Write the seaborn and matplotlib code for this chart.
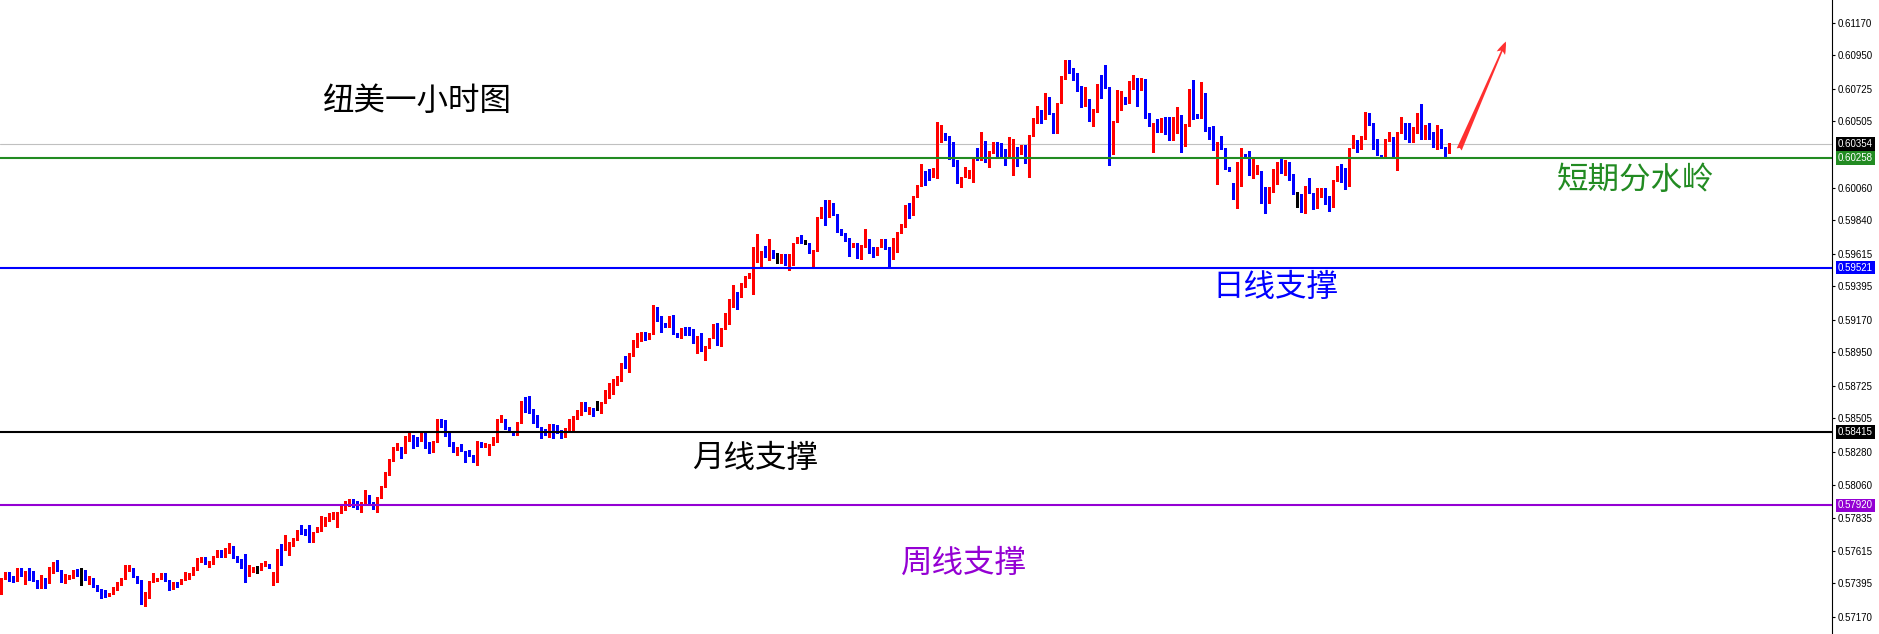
import matplotlib
matplotlib.use("Agg")
import matplotlib.pyplot as plt
import matplotlib.transforms as mtransforms
import numpy as np
import seaborn as sns

# NZD/USD 1-hour candles, prices in units of 0.00001
first_open = 57332
gap_opens = {68: 57390, 188: 59370, 308: 60089}

closes = [
    57428, 57449, 57422, 57410, 57496, 57451, 57467, 57465, 57410, 57399,
    57431, 57412, 57478, 57525, 57480, 57406, 57436, 57440, 57458, 57444,
    57444, 57417, 57433, 57379, 57350, 57328, 57316, 57330, 57368, 57390,
    57428, 57485, 57500, 57440, 57412, 57283, 57337, 57410, 57417, 57431,
    57437, 57410, 57354, 57404, 57397, 57424, 57433, 57467, 57492, 57565,
    57570, 57530, 57547, 57579, 57590, 57586, 57601, 57615, 57570, 57552,
    57525, 57444, 57485, 57492, 57492, 57518, 57527, 57496, 57410, 57626,
    57619, 57642, 57658, 57695, 57756, 57727, 57718, 57687, 57743, 57761,
    57815, 57826, 57837, 57844, 57877, 57900, 57918, 57941, 57922, 57911,
    57941, 57967, 57938, 57911, 57971, 58046, 58131, 58219, 58313, 58315,
    58275, 58360, 58376, 58360, 58355, 58400, 58340, 58315, 58355, 58468,
    58450, 58405, 58326, 58288, 58315, 58288, 58268, 58252, 58219, 58333,
    58311, 58320, 58333, 58367, 58483, 58499, 58446, 58421, 58407, 58481,
    58616, 58611, 58562, 58483, 58450, 58432, 58429, 58466, 58427, 58412,
    58387, 58427, 58454, 58513, 58540, 58614, 58567, 58576, 58562, 58562,
    58614, 58648, 58704, 58737, 58766, 58865, 58847, 58932, 59000, 59060,
    59079, 59040, 59074, 59249, 59190, 59141, 59123, 59164, 59074, 59060,
    59108, 59087, 59083, 59011, 59060, 58961, 58993, 59045, 59141, 59007,
    59114, 59213, 59269, 59334, 59323, 59397, 59458, 59483, 59590, 59606,
    59635, 59590, 59635, 59584, 59584, 59599, 59538, 59543, 59685, 59695,
    59685, 59685, 59617, 59640, 59860, 59931, 59864, 59891, 59875, 59774,
    59740, 59718, 59662, 59689, 59584, 59673, 59714, 59662, 59628, 59662,
    59666, 59655, 59584, 59718, 59759, 59803, 59942, 59897, 60003, 60077,
    60160, 60146, 60137, 60178, 60414, 60421, 60402, 60272, 60241, 60104,
    60133, 60156, 60178, 60264, 60257, 60279, 60234, 60308, 60367, 60301,
    60291, 60264, 60331, 60335, 60286, 60331, 60223, 60414, 60501, 60582,
    60569, 60636, 60555, 60486, 60631, 60813, 60912, 60863, 60829, 60739,
    60650, 60656, 60520, 60589, 60757, 60753, 60728, 60306, 60508, 60589,
    60672, 60627, 60757, 60766, 60739, 60749, 60555, 60475, 60493, 60436,
    60481, 60470, 60380, 60501, 60551, 60347, 60488, 60722, 60549, 60530,
    60665, 60459, 60441, 60313, 60340, 60320, 60190, 60173, 59998, 60077,
    60284, 60264, 60145, 60160, 60171, 60025, 59954, 60066, 60089, 60219,
    60160, 60163, 60145, 60017, 60017, 59909, 60072, 60023, 59931, 60003,
    60032, 59949, 59931, 60111, 60196, 60190, 60089, 60324, 60335, 60322,
    60407, 60515, 60481, 60322, 60277, 60264, 60380, 60402, 60264, 60432,
    60475, 60425, 60369, 60436, 60533, 60389, 60407, 60398, 60367, 60407,
    60324, 60301, 60354,
]

highs = [
    57428, 57472, 57472, 57443, 57496, 57496, 57480, 57496, 57480, 57417,
    57451, 57424, 57507, 57541, 57552, 57487, 57458, 57451, 57485, 57489,
    57496, 57485, 57444, 57424, 57384, 57359, 57352, 57330, 57368, 57404,
    57428, 57518, 57518, 57500, 57444, 57417, 57337, 57410, 57462, 57431,
    57467, 57467, 57415, 57404, 57397, 57424, 57474, 57467, 57507, 57565,
    57570, 57570, 57547, 57579, 57619, 57619, 57631, 57665, 57646, 57579,
    57559, 57592, 57518, 57507, 57512, 57534, 57543, 57527, 57474, 57626,
    57660, 57720, 57675, 57702, 57756, 57788, 57761, 57788, 57743, 57776,
    57848, 57844, 57866, 57877, 57877, 57918, 57951, 57963, 57963, 57949,
    57943, 58023, 57990, 57943, 57978, 58052, 58147, 58230, 58313, 58342,
    58315, 58389, 58416, 58394, 58382, 58416, 58416, 58347, 58355, 58501,
    58501, 58495, 58409, 58345, 58315, 58333, 58281, 58293, 58257, 58351,
    58345, 58338, 58333, 58378, 58499, 58526, 58499, 58446, 58421, 58481,
    58625, 58648, 58656, 58569, 58526, 58450, 58436, 58466, 58466, 58461,
    58427, 58441, 58499, 58522, 58562, 58614, 58614, 58584, 58576, 58623,
    58614, 58697, 58742, 58769, 58791, 58881, 58928, 58944, 59034, 59079,
    59085, 59087, 59083, 59269, 59258, 59197, 59150, 59197, 59202, 59083,
    59114, 59123, 59123, 59108, 59060, 59079, 58993, 59045, 59141, 59150,
    59114, 59213, 59308, 59402, 59357, 59415, 59464, 59487, 59658, 59747,
    59635, 59666, 59714, 59640, 59617, 59613, 59613, 59611, 59685, 59729,
    59743, 59707, 59689, 59640, 59860, 59931, 59976, 59976, 59958, 59882,
    59779, 59752, 59720, 59689, 59689, 59673, 59779, 59707, 59658, 59662,
    59712, 59712, 59662, 59718, 59759, 59815, 59942, 59954, 60003, 60077,
    60219, 60173, 60183, 60190, 60503, 60481, 60429, 60409, 60369, 60246,
    60133, 60200, 60178, 60264, 60324, 60434, 60376, 60308, 60367, 60367,
    60362, 60318, 60402, 60389, 60335, 60349, 60347, 60414, 60526, 60609,
    60582, 60699, 60672, 60564, 60631, 60813, 60919, 60919, 60863, 60829,
    60744, 60739, 60656, 60589, 60757, 60818, 60885, 60739, 60508, 60717,
    60712, 60672, 60780, 60818, 60796, 60798, 60791, 60560, 60493, 60524,
    60526, 60533, 60533, 60537, 60604, 60551, 60488, 60726, 60784, 60555,
    60771, 60699, 60466, 60475, 60367, 60407, 60328, 60200, 60089, 60234,
    60324, 60284, 60306, 60257, 60212, 60171, 60066, 60066, 60185, 60230,
    60257, 60246, 60234, 60149, 60030, 60017, 60072, 60122, 60021, 60055,
    60055, 60055, 60003, 60111, 60205, 60219, 60192, 60324, 60414, 60380,
    60407, 60567, 60564, 60493, 60387, 60279, 60385, 60434, 60402, 60432,
    60537, 60493, 60493, 60470, 60560, 60623, 60479, 60493, 60432, 60479,
    60454, 60335, 60358,
]

lows = [
    57323, 57422, 57410, 57404, 57410, 57444, 57393, 57417, 57410, 57365,
    57361, 57365, 57395, 57467, 57480, 57406, 57399, 57424, 57433, 57444,
    57384, 57417, 57388, 57372, 57345, 57296, 57305, 57310, 57325, 57350,
    57386, 57424, 57480, 57440, 57399, 57256, 57242, 57298, 57406, 57410,
    57422, 57410, 57350, 57359, 57368, 57390, 57417, 57426, 57453, 57485,
    57541, 57523, 57507, 57523, 57574, 57574, 57570, 57597, 57563, 57541,
    57496, 57406, 57444, 57474, 57462, 57485, 57512, 57496, 57384, 57406,
    57518, 57619, 57586, 57648, 57687, 57727, 57718, 57675, 57671, 57739,
    57747, 57783, 57817, 57828, 57776, 57866, 57889, 57924, 57911, 57895,
    57877, 57934, 57936, 57895, 57877, 57967, 58046, 58124, 58219, 58293,
    58241, 58275, 58355, 58304, 58320, 58353, 58304, 58275, 58281, 58349,
    58450, 58387, 58320, 58281, 58261, 58288, 58214, 58252, 58214, 58194,
    58311, 58311, 58259, 58328, 58349, 58479, 58432, 58421, 58394, 58394,
    58477, 58551, 58540, 58473, 58450, 58376, 58394, 58378, 58371, 58407,
    58374, 58380, 58427, 58427, 58503, 58528, 58557, 58535, 58524, 58562,
    58540, 58607, 58643, 58668, 58730, 58759, 58847, 58820, 58928, 58988,
    59029, 59034, 59045, 59072, 59164, 59089, 59123, 59123, 59074, 59052,
    59049, 59067, 59067, 59011, 58948, 58961, 58899, 58982, 59045, 59000,
    58993, 59110, 59141, 59254, 59244, 59325, 59392, 59449, 59343, 59561,
    59527, 59590, 59572, 59584, 59554, 59550, 59538, 59505, 59538, 59685,
    59685, 59680, 59617, 59527, 59635, 59853, 59808, 59868, 59875, 59763,
    59740, 59702, 59599, 59666, 59584, 59577, 59662, 59621, 59594, 59606,
    59660, 59644, 59527, 59577, 59628, 59752, 59796, 59853, 59875, 59998,
    60071, 60077, 60111, 60129, 60126, 60369, 60380, 60250, 60205, 60093,
    60066, 60129, 60122, 60099, 60246, 60246, 60234, 60200, 60295, 60268,
    60272, 60212, 60264, 60145, 60205, 60286, 60223, 60133, 60409, 60497,
    60497, 60524, 60555, 60429, 60429, 60627, 60789, 60829, 60784, 60712,
    60604, 60609, 60508, 60475, 60571, 60665, 60728, 60212, 60286, 60503,
    60582, 60621, 60631, 60724, 60609, 60717, 60530, 60475, 60299, 60436,
    60443, 60421, 60380, 60385, 60429, 60301, 60340, 60477, 60522, 60530,
    60526, 60443, 60385, 60313, 60084, 60320, 60183, 60173, 59981, 59920,
    60072, 60264, 60145, 60122, 60151, 59954, 59891, 59958, 60032, 60084,
    60160, 60145, 60111, 60017, 59931, 59897, 59891, 60023, 59914, 59920,
    59994, 59949, 59904, 59931, 60106, 60099, 60048, 60071, 60324, 60301,
    60324, 60385, 60481, 60322, 60277, 60264, 60264, 60374, 60264, 60178,
    60425, 60389, 60369, 60369, 60425, 60389, 60389, 60385, 60335, 60318,
    60324, 60264, 60295,
]

price_ticks = [0.61170, 0.60950, 0.60725, 0.60505, 0.60060, 0.59840, 0.59615,
               0.59395, 0.59170, 0.58950, 0.58725, 0.58505, 0.58280, 0.58060,
               0.57835, 0.57615, 0.57395, 0.57170]

current_price = 0.60354
level_prices = [0.60258, 0.59521, 0.58415, 0.57920]
level_names = ["短期分水岭", "日线支撑", "月线支撑", "周线支撑"]
chart_title = "纽美一小时图"

# ---- style ----
UP, DOWN, DOJI = "#ff0000", "#0000ff", "#000000"
level_colors = ["#228b22", "#0000ff", "#000000", "#9400d3"]
# label anchor (axes fraction, left / vertical centre)
level_label_pos = [(0.8499, 0.7160), (0.6616, 0.5475), (0.3777, 0.2780), (0.4918, 0.1125)]

sns.set_style("white")
plt.rcParams["font.family"] = ["Noto Sans CJK SC", "DejaVu Sans"]

W, H, AX_W = 1879, 634, 1832
fig = plt.figure(figsize=(W / 100, H / 100), dpi=100)
ax = fig.add_axes([0, 0, AX_W / W, 1])

c = np.array(closes) / 1e5
o = np.r_[first_open, closes[:-1]].astype(float)
for k, v in gap_opens.items():
    o[k] = v
o = o / 1e5
hi = np.maximum.reduce([np.array(highs) / 1e5, o, c])
lo = np.minimum.reduce([np.array(lows) / 1e5, o, c])
x = np.arange(len(c))
cols = np.where(c > o, UP, np.where(c < o, DOWN, DOJI))

ax.axhline(current_price, color="#c0c0c0", lw=0.8, zorder=1)
ax.vlines(x, lo, hi, colors=cols, linewidth=0.8, antialiased=False, zorder=2)
body = np.maximum(np.abs(c - o), 0.00007)
ax.bar(x, body, bottom=np.minimum(o, c), width=0.75, color=cols,
       linewidth=0, antialiased=False, zorder=2)

for p, col in zip(level_prices, level_colors):
    ax.axhline(p, color=col, lw=1.5, zorder=3)

ax.set_xlim(-0.325, -0.325 + AX_W / 4)
ax.set_ylim(0.570536, 0.61323)

for s in ["left", "top", "bottom"]:
    ax.spines[s].set_visible(False)
ax.spines["right"].set_color("black")
ax.spines["right"].set_linewidth(0.8)
ax.set_xticks([])
ax.yaxis.tick_right()
ax.set_yticks(price_ticks)
ax.set_yticklabels([f"{p:.5f}" for p in price_ticks], fontsize=7,
                   family="Liberation Sans")
ax.tick_params(axis="y", length=2.5, width=0.8, pad=1.8, colors="black", right=True)
ax.grid(False)

blend = mtransforms.blended_transform_factory(ax.transAxes, ax.transData)
for p, col in [(current_price, "#000000")] + list(zip(level_prices, level_colors)):
    ax.text(1.0033, p, f"{p:.5f}", transform=blend, ha="left", va="center",
            color="white", fontsize=7, family="Liberation Sans", clip_on=False,
            bbox=dict(boxstyle="square,pad=0.18", fc=col, ec="none"), zorder=5)

ax.text(0.1763, 0.8415, chart_title, transform=ax.transAxes, ha="left",
        va="center", fontsize=22.7, color="black")
for name, col, (tx, ty) in zip(level_names, level_colors, level_label_pos):
    ax.text(tx, ty, name, transform=ax.transAxes, ha="left", va="center",
            fontsize=22.7, color=col)

ax.annotate("", xy=(0.8226, 0.9385), xytext=(0.7959, 0.7603),
            xycoords="axes fraction", textcoords="axes fraction",
            arrowprops=dict(arrowstyle="fancy,head_length=0.7,head_width=0.5,tail_width=0.3",
                            color="#ff3030", lw=0, mutation_scale=13))

fig.savefig("out.png", dpi=100)
